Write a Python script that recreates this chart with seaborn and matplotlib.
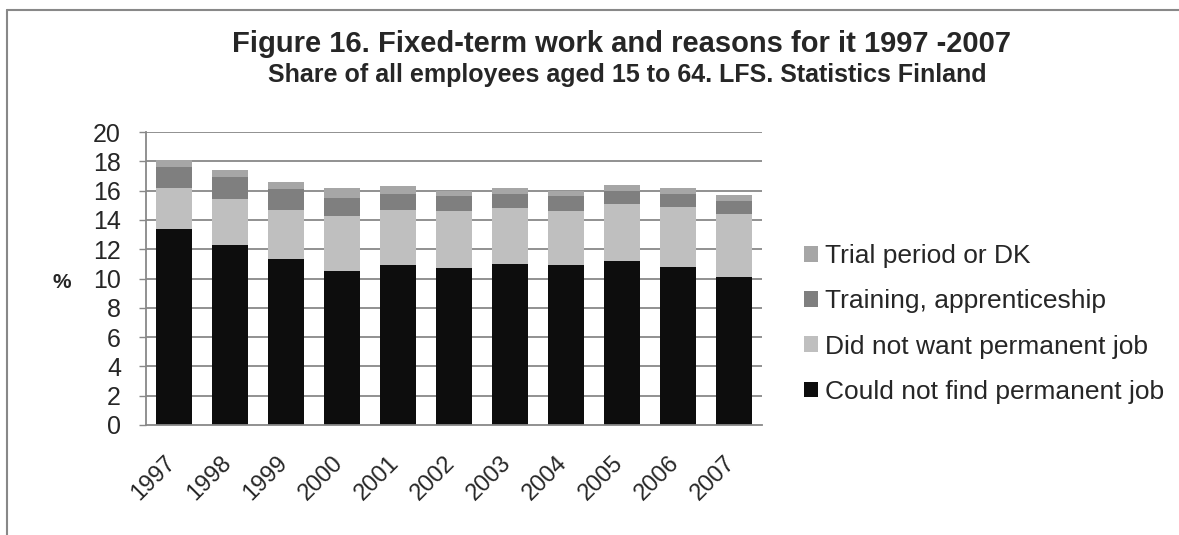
import matplotlib
matplotlib.use("Agg")
import matplotlib.pyplot as plt
import matplotlib.transforms as mtransforms
from matplotlib.patches import Patch
from matplotlib.lines import Line2D
import pandas as pd
import seaborn as sns

years = ["1997", "1998", "1999", "2000", "2001", "2002", "2003", "2004", "2005", "2006", "2007"]
could_not_find = [13.4, 12.3, 11.3, 10.5, 10.9, 10.7, 11.0, 10.9, 11.2, 10.8, 10.1]
did_not_want = [2.8, 3.1, 3.4, 3.8, 3.8, 3.9, 3.8, 3.7, 3.9, 4.1, 4.3]
training = [1.4, 1.5, 1.4, 1.2, 1.1, 1.0, 1.0, 1.0, 0.9, 0.9, 0.9]
trial_dk = [0.5, 0.5, 0.5, 0.7, 0.5, 0.4, 0.4, 0.4, 0.4, 0.4, 0.4]

series_names = ["Could not find permanent job", "Did not want permanent job",
                "Training, apprenticeship", "Trial period or DK"]
series_colors = ["#0d0d0d", "#bfbfbf", "#7f7f7f", "#a6a6a6"]

sns.set_theme(style="white")
plt.rcParams["font.family"] = ["Liberation Sans", "DejaVu Sans"]

df = pd.DataFrame({
    "year": years,
    series_names[0]: could_not_find,
    series_names[1]: did_not_want,
    series_names[2]: training,
    series_names[3]: trial_dk,
})
# cumulative tops of each stacked segment
cum = df[series_names].cumsum(axis=1)

W, H = 1179, 535
fig = plt.figure(figsize=(W / 100, H / 100), dpi=100)
ax = fig.add_axes([146 / W, 1 - 425 / H, 616 / W, 293 / H])

grid_col = "#888888"
for y in range(2, 21, 2):
    ax.axhline(y, color=grid_col, lw=1.3, zorder=0)

# draw from the tallest cumulative layer down so each segment shows its share
for name, col in reversed(list(zip(series_names, series_colors))):
    sns.barplot(x=df["year"], y=cum[name], color=col, width=0.64,
                saturation=1, ax=ax, zorder=2, linewidth=0)

ax.set_ylim(0, 20)
ax.set_xlim(-0.5, len(years) - 0.5)
ax.set_yticks(range(0, 21, 2))
ax.set_xlabel("")
ax.set_ylabel("")
for s in ["top", "right"]:
    ax.spines[s].set_visible(False)
for s in ["left", "bottom"]:
    ax.spines[s].set_color(grid_col)
    ax.spines[s].set_linewidth(1.3)
ax.tick_params(axis="y", which="major", direction="out", length=5, width=1,
               color=grid_col, labelsize=18, pad=13, left=True)
ax.tick_params(axis="x", length=0, labelsize=17, pad=19)
shift = mtransforms.ScaledTranslation(-10 / 100, 0, fig.dpi_scale_trans)
for lab in ax.get_xticklabels():
    lab.set_rotation(45)
    lab.set_ha("right")
    lab.set_rotation_mode("anchor")
    lab.set_transform(lab.get_transform() + shift)

fig.text(62 / W, 1 - 283 / H, "%", fontsize=15, fontweight="bold",
         ha="center", va="center")

fig.text(621 / W, 1 - 44 / H, "Figure 16. Fixed-term work and reasons for it 1997 -2007",
         fontsize=21, fontweight="bold", ha="center", va="center")
fig.text(627 / W, 1 - 75 / H, "Share of all employees aged 15 to 64. LFS. Statistics Finland",
         fontsize=18, fontweight="bold", ha="center", va="center")

handles = [Patch(facecolor=c, edgecolor="none") for c in reversed(series_colors)]
labels = list(reversed(series_names))
fig.legend(handles, labels, loc="center left",
           bbox_to_anchor=(804 / W, 1 - 324 / H), frameon=False,
           fontsize=19, handlelength=0.53, handleheight=0.53,
           handletextpad=0.26, labelspacing=0.8, borderaxespad=0, borderpad=0)

# outer chart frame
fig.add_artist(Line2D([6.5 / W, 6.5 / W], [0, 1 - 9.5 / H],
                      transform=fig.transFigure, color="#888888", lw=1.5))
fig.add_artist(Line2D([6.5 / W, 1], [1 - 9.5 / H, 1 - 9.5 / H],
                      transform=fig.transFigure, color="#888888", lw=1.5))

fig.savefig("out.png", dpi=100, facecolor="white")
